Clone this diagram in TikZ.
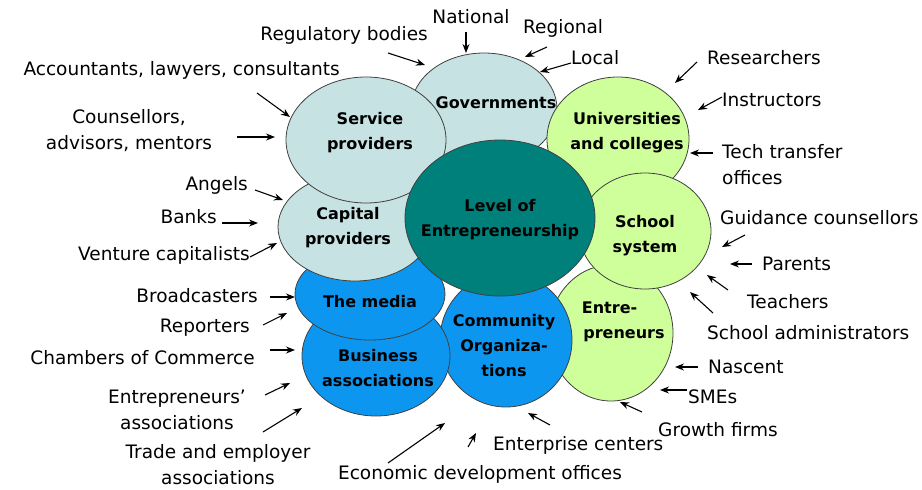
\documentclass[tikz,border=0pt]{standalone}
\usepackage{fontspec}
\setmainfont{DejaVu Sans}
\usetikzlibrary{arrows.meta,shapes.geometric}
\definecolor{govblue}{RGB}{199,226,226}
\definecolor{mediablue}{RGB}{12,150,240}
\definecolor{coreteal}{RGB}{0,128,122}
\definecolor{edugreen}{RGB}{206,255,155}
\tikzset{
    actor/.style={
        ellipse,
        draw=black!75,
        line width=0.8pt,
        inner sep=0pt,
    },
    actortext/.style={
        font=\fontsize{16}{25}\selectfont\bfseries,
        align=center,
        inner sep=0pt,
    },
    who/.style={
        font=\fontsize{18.5}{26}\selectfont,
        align=center,
        inner sep=0pt,
    },
    pointer/.style={
        -{Stealth[length=9pt,width=7pt]},
        line width=1.1pt,
    },
}

\begin{document}
\begin{tikzpicture}[x=1pt,y=-1pt]
    \useasboundingbox (0,0) rectangle (922,490);

    % the actors, back to front
    \node [actor, fill=edugreen, minimum width=124pt, minimum height=136pt] (ent) at (611,333) {};
    \node [actor, fill=mediablue, minimum width=132pt, minimum height=134pt] (comm) at (506,340) {};
    \node [actor, fill=mediablue, minimum width=148pt, minimum height=120pt] (busi) at (376,356) {};
    \node [actor, fill=mediablue, minimum width=150pt, minimum height=92pt] (media) at (370,294) {};
    \node [actor, fill=govblue, minimum width=154pt, minimum height=108pt] (cap) at (355,227) {};
    \node [actor, fill=govblue, minimum width=146pt, minimum height=112pt] (gov) at (484,109) {};
    \node [actor, fill=govblue, minimum width=160pt, minimum height=126pt] (serv) at (366,140) {};
    \node [actor, fill=edugreen, minimum width=142pt, minimum height=124pt] (univ) at (618,139) {};
    \node [actor, fill=edugreen, minimum width=132pt, minimum height=116pt] (school) at (645,231) {};
    \node [actor, fill=coreteal, minimum width=190pt, minimum height=156pt] (level) at (500,218) {};

    \node [actortext] (ent-t) at (624,322) {Entre-\phantom{urs}\\preneurs};
    \node [actortext] (comm-t) at (504,346) {Community\\Organiza-\\tions};
    \node [actortext] (busi-t) at (378,368) {Business\\associations};
    \node [actortext] (media-t) at (370,302) {The media};
    \node [actortext] (cap-t) at (348,228) {Capital\\providers};
    \node [actortext] (gov-t) at (496,103) {Governments};
    \node [actortext] (serv-t) at (370,133) {Service\\providers};
    \node [actortext] (univ-t) at (627,133) {Universities\\and colleges};
    \node [actortext] (school-t) at (645,236) {School\\system};
    \node [actortext] (level-t) at (500,220) {Level of\\Entrepreneurship};

    % who is behind each actor
    \node [who] (natl) at (471,17) {National};
    \node [who, anchor=west] (regn) at (523,28) {Regional};
    \node [who, anchor=west] (locl) at (571,58) {Local};
    \node [who, anchor=east] (regu) at (428,35) {Regulatory bodies};
    \node [who, anchor=east] (acct) at (340,70) {Accountants, lawyers, consultants};
    \node [who] (cnsl) at (129,131) {Counsellors,\\advisors, mentors};
    \node [who, anchor=east] (angl) at (248,185) {Angels};
    \node [who, anchor=east] (bank) at (217,217) {Banks};
    \node [who, anchor=east] (vent) at (250,255) {Venture capitalists};
    \node [who, anchor=east] (brdc) at (258,296) {Broadcasters};
    \node [who, anchor=east] (rprt) at (250,328) {Reporters};
    \node [who, anchor=east] (chmb) at (255,358) {Chambers of Commerce};
    \node [who] (entas) at (177,410) {Entrepreneurs'\\associations};
    \node [who] (trad) at (218,465) {Trade and employer\\associations};
    \node [who] (econ) at (480,474) {Economic development offices};
    \node [who, anchor=west] (entc) at (493,445) {Enterprise centers};
    \node [who, anchor=west] (grow) at (658,430) {Growth firms};
    \node [who, anchor=west] (smes) at (688,397) {SMEs};
    \node [who, anchor=west] (nasc) at (708,367) {Nascent};
    \node [who, anchor=west] (sadm) at (707,333) {School administrators};
    \node [who, anchor=west] (tchr) at (747,302) {Teachers};
    \node [who, anchor=west] (prnt) at (762,264) {Parents};
    \node [who, anchor=west] (guid) at (720,218) {Guidance counsellors};
    \node [who, anchor=west, align=left] (tech) at (722,165) {Tech transfer\\offices};
    \node [who, anchor=west] (inst) at (722,100) {Instructors};
    \node [who, anchor=west] (rsch) at (707,58) {Researchers};

    % arrow ends
    \coordinate (natl-a) at (466,32);   \coordinate (natl-b) at (466,53);
    \coordinate (regn-a) at (547,47);   \coordinate (regn-b) at (525,57);
    \coordinate (locl-a) at (571,63);   \coordinate (locl-b) at (540,72);
    \coordinate (regu-a) at (388,53);   \coordinate (regu-b) at (425,65);
    \coordinate (acct-a) at (257,93);   \coordinate (acct-b) at (290,117);
    \coordinate (cnsl-a) at (237,137);  \coordinate (cnsl-b) at (275,137);
    \coordinate (angl-a) at (255,190);  \coordinate (angl-b) at (283,200);
    \coordinate (bank-a) at (222,223);  \coordinate (bank-b) at (258,223);
    \coordinate (vent-a) at (250,257);  \coordinate (vent-b) at (277,243);
    \coordinate (brdc-a) at (270,297);  \coordinate (brdc-b) at (295,297);
    \coordinate (rprt-a) at (263,325);  \coordinate (rprt-b) at (287,313);
    \coordinate (chmb-a) at (270,350);  \coordinate (chmb-b) at (295,350);
    \coordinate (entas-a) at (265,395); \coordinate (entas-b) at (290,383);
    \coordinate (trad-a) at (263,432);  \coordinate (trad-b) at (302,408);
    \coordinate (econ-a) at (388,463);  \coordinate (econ-b) at (445,423);
    \coordinate (entc-a) at (468,447);  \coordinate (entc-b) at (476,433);
    \coordinate (entc-c) at (550,425);  \coordinate (entc-d) at (528,413);
    \coordinate (grow-a) at (642,412);  \coordinate (grow-b) at (620,402);
    \coordinate (smes-a) at (687,390);  \coordinate (smes-b) at (660,390);
    \coordinate (nasc-a) at (698,367);  \coordinate (nasc-b) at (675,367);
    \coordinate (sadm-a) at (713,313);  \coordinate (sadm-b) at (690,292);
    \coordinate (tchr-a) at (728,290);  \coordinate (tchr-b) at (707,275);
    \coordinate (prnt-a) at (752,264);  \coordinate (prnt-b) at (730,264);
    \coordinate (guid-a) at (745,235);  \coordinate (guid-b) at (722,247);
    \coordinate (tech-a) at (713,153);  \coordinate (tech-b) at (690,153);
    \coordinate (inst-a) at (722,97);   \coordinate (inst-b) at (698,110);
    \coordinate (rsch-a) at (697,62);   \coordinate (rsch-b) at (675,83);

    \foreach \s/\t in {natl-a/natl-b, regn-a/regn-b, locl-a/locl-b, regu-a/regu-b,
        acct-a/acct-b, cnsl-a/cnsl-b, angl-a/angl-b, bank-a/bank-b, vent-a/vent-b,
        brdc-a/brdc-b, rprt-a/rprt-b, chmb-a/chmb-b, entas-a/entas-b, trad-a/trad-b,
        econ-a/econ-b, entc-a/entc-b, entc-c/entc-d, grow-a/grow-b, smes-a/smes-b,
        nasc-a/nasc-b, sadm-a/sadm-b, tchr-a/tchr-b, prnt-a/prnt-b, guid-a/guid-b,
        tech-a/tech-b, inst-a/inst-b, rsch-a/rsch-b}
        \draw [pointer] (\s) -- (\t);
\end{tikzpicture}
\end{document}
